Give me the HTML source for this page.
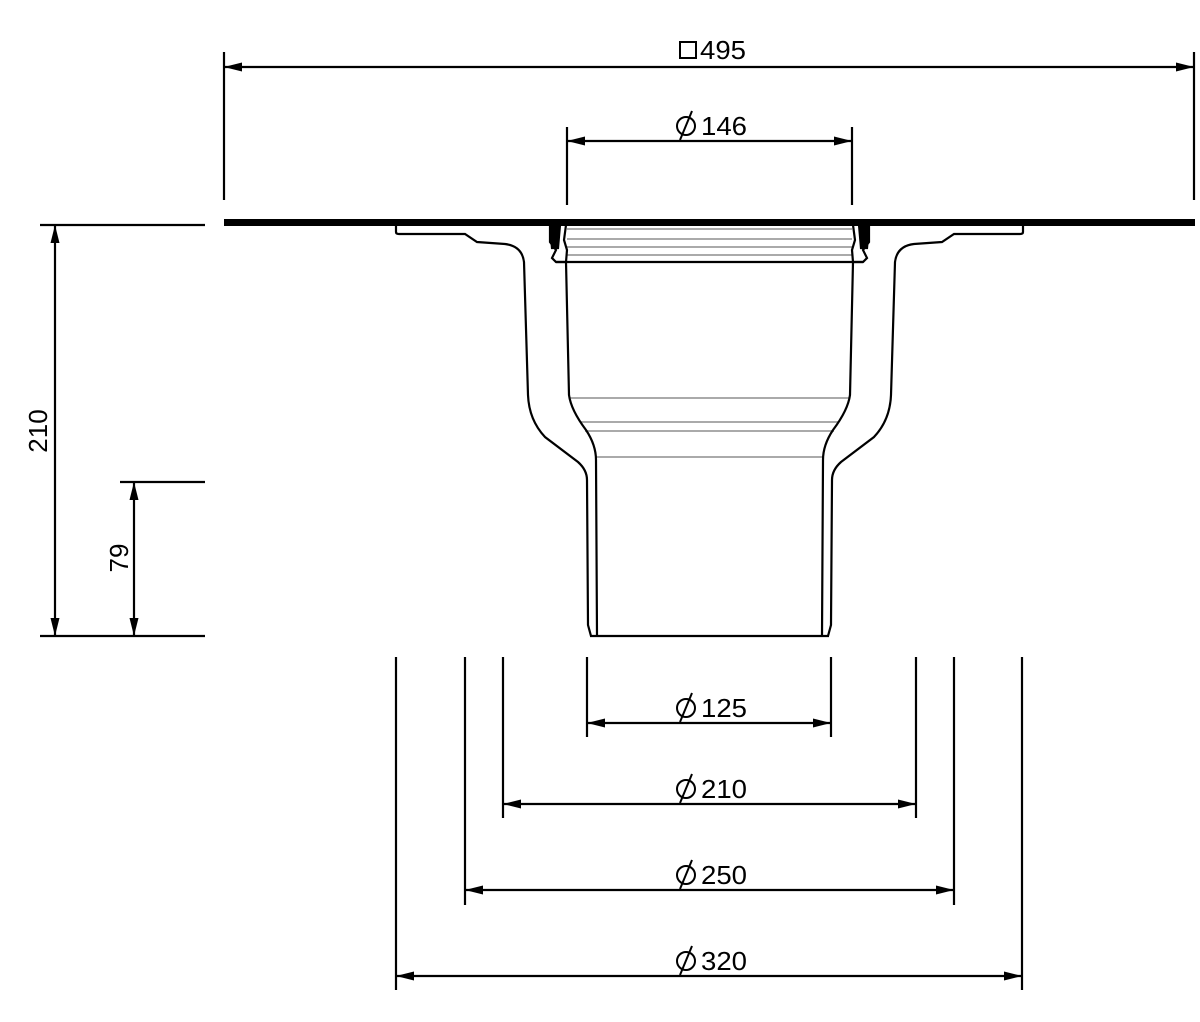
<!DOCTYPE html>
<html><head><meta charset="utf-8"><style>html,body{margin:0;padding:0;background:#fff}svg{display:block}text{font-family:"Liberation Sans",Arial,sans-serif;font-size:26px;fill:#000}</style></head>
<body>
<svg width="1200" height="1022" viewBox="0 0 1200 1022" xmlns="http://www.w3.org/2000/svg">
<defs>
<g id="dia"><circle cx="0" cy="0" r="9" fill="none" stroke="#000" stroke-width="2"/><line x1="-6" y1="14" x2="6" y2="-15" stroke="#000" stroke-width="2"/></g>
<path id="ar" d="M0,0 L18,-4.5 L18,4.5 Z" fill="#000"/>
</defs>
<g stroke="#000" stroke-width="2.2" fill="none">
<line x1="224" y1="52" x2="224" y2="200"/><line x1="1194" y1="52" x2="1194" y2="200"/>
<line x1="224" y1="67" x2="1194" y2="67"/>
<line x1="567" y1="127" x2="567" y2="205"/><line x1="852" y1="127" x2="852" y2="205"/>
<line x1="567" y1="141" x2="852" y2="141"/>
<line x1="40" y1="225" x2="205" y2="225"/><line x1="120" y1="482" x2="205" y2="482"/><line x1="40" y1="636" x2="205" y2="636"/>
<line x1="55" y1="225" x2="55" y2="636"/><line x1="134" y1="482" x2="134" y2="636"/>
<line x1="587" y1="657" x2="587" y2="737"/><line x1="831" y1="657" x2="831" y2="737"/><line x1="587" y1="723" x2="831" y2="723"/>
<line x1="503" y1="657" x2="503" y2="818"/><line x1="916" y1="657" x2="916" y2="818"/><line x1="503" y1="804" x2="916" y2="804"/>
<line x1="465" y1="657" x2="465" y2="905"/><line x1="954" y1="657" x2="954" y2="905"/><line x1="465" y1="890" x2="954" y2="890"/>
<line x1="396" y1="657" x2="396" y2="990"/><line x1="1022" y1="657" x2="1022" y2="990"/><line x1="396" y1="976" x2="1022" y2="976"/>
</g>
<use href="#ar" transform="translate(224,67)"/><use href="#ar" transform="translate(1194,67) scale(-1,1)"/>
<use href="#ar" transform="translate(567,141)"/><use href="#ar" transform="translate(852,141) scale(-1,1)"/>
<use href="#ar" transform="translate(587,723)"/><use href="#ar" transform="translate(831,723) scale(-1,1)"/>
<use href="#ar" transform="translate(503,804)"/><use href="#ar" transform="translate(916,804) scale(-1,1)"/>
<use href="#ar" transform="translate(465,890)"/><use href="#ar" transform="translate(954,890) scale(-1,1)"/>
<use href="#ar" transform="translate(396,976)"/><use href="#ar" transform="translate(1022,976) scale(-1,1)"/>
<use href="#ar" transform="translate(55,225) rotate(90)"/><use href="#ar" transform="translate(55,636) rotate(-90)"/>
<use href="#ar" transform="translate(134,482) rotate(90)"/><use href="#ar" transform="translate(134,636) rotate(-90)"/>
<rect x="680" y="42" width="16" height="16" fill="none" stroke="#000" stroke-width="2"/>
<text x="700" y="59" textLength="46" lengthAdjust="spacingAndGlyphs">495</text>
<use href="#dia" transform="translate(686,126)"/><text x="701" y="135" textLength="46" lengthAdjust="spacingAndGlyphs">146</text>
<use href="#dia" transform="translate(686,708)"/><text x="701" y="717" textLength="46" lengthAdjust="spacingAndGlyphs">125</text>
<use href="#dia" transform="translate(686,789)"/><text x="701" y="798" textLength="46" lengthAdjust="spacingAndGlyphs">210</text>
<use href="#dia" transform="translate(686,875)"/><text x="701" y="884" textLength="46" lengthAdjust="spacingAndGlyphs">250</text>
<use href="#dia" transform="translate(686,961)"/><text x="701" y="970" textLength="46" lengthAdjust="spacingAndGlyphs">320</text>
<text transform="translate(47,431) rotate(-90)" text-anchor="middle">210</text>
<text transform="translate(128,558) rotate(-90)" text-anchor="middle">79</text>
<rect x="224" y="219" width="971" height="7" fill="#000"/>
<g stroke="#aaa" stroke-width="2">
<line x1="567" y1="229" x2="852" y2="229"/><line x1="567" y1="239" x2="852" y2="239"/>
<line x1="567" y1="247" x2="852" y2="247"/><line x1="567" y1="255" x2="852" y2="255"/>
<line x1="570" y1="398" x2="849" y2="398"/><line x1="580" y1="422" x2="839" y2="422"/>
<line x1="585" y1="431" x2="834" y2="431"/><line x1="596" y1="457" x2="823" y2="457"/>
</g>
<g id="half" stroke="#000" stroke-width="2.2" fill="none">
<path d="M396,225 V232 Q396,234 399,234 H465 L477,242 L505,244 Q522,246 524,262 L528,395 Q529,420 545,437 L578,462 Q587,470 587,480 L588,625 L591,636"/>
<path d="M566,225 L564,240 L567,250 L566,262 L569,395 Q571,410 586,430 Q596,445 596,460 L597,636"/>
<path d="M550,225 L550,242 L556,250 L552,258 L556,262 L566,262" />
<path d="M550,225 L560,225 L558,248 L552,248 Z" fill="#000"/>
</g>
<use href="#half" transform="translate(1419,0) scale(-1,1)"/>
<g stroke="#000" stroke-width="2.2">
<line x1="556" y1="262" x2="863" y2="262"/>
<line x1="590" y1="636" x2="829" y2="636"/>
</g>
</svg>
</body></html>
